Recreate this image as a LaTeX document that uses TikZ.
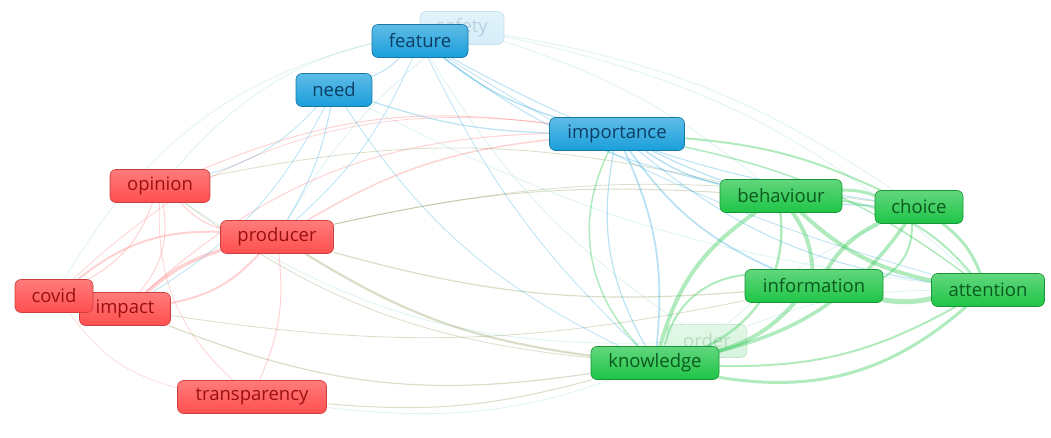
\documentclass[tikz,border=0pt]{standalone}
\usepackage{fontspec}
\setmainfont{Open Sans}
\usetikzlibrary{positioning,backgrounds}
\definecolor{vosred}{HTML}{FF4F4F}
\definecolor{vosblue}{HTML}{1A9FDB}
\definecolor{vosgreen}{HTML}{1EC546}
\definecolor{redtext}{HTML}{9A1010}
\definecolor{bluetext}{HTML}{0D3E66}
\definecolor{greentext}{HTML}{0B5A1E}
\begin{document}
\begin{tikzpicture}[
    x=1pt,y=-1pt,
    term/.style={rectangle,rounded corners=6pt,minimum height=33pt,inner xsep=0pt,
      font=\fontsize{18.5}{21}\selectfont,line width=0.6pt},
    redterm/.style={term,draw=vosred!80!black,top color=vosred!75!white,bottom color=vosred,text=redtext},
    blueterm/.style={term,draw=vosblue!75!black,top color=vosblue!70!white,bottom color=vosblue,text=bluetext},
    greenterm/.style={term,draw=vosgreen!75!black,top color=vosgreen!70!white,bottom color=vosgreen,text=greentext},
    faded/.style={opacity=0.18},
    link/.style={line width=#1,line cap=round},
    redlink/.style={link=#1,vosred,opacity=0.25},
    bluelink/.style={link=#1,vosblue,opacity=0.3},
    greenlink/.style={link=#1,vosgreen,opacity=0.35},
    mixlink/.style={link=#1,vosred!45!vosgreen,opacity=0.3},
    faintlink/.style={link=0.8pt,vosblue!60!vosgreen,opacity=0.15}
  ]
    \useasboundingbox (0,0) rectangle (1051,438);
    % Faded terms (behind)
    \node[greenterm,faded,minimum width=80pt] (order) at (707,341) {order};
    \node[blueterm,faded,minimum width=84pt] (safety) at (462,28) {safety};
    % Terms
    \node[blueterm,minimum width=96pt] (feature) at (420,41) {feature};
    \node[blueterm,minimum width=76pt] (need) at (334,90) {need};
    \node[blueterm,minimum width=135pt] (importance) at (617,134) {importance};
    \node[redterm,minimum width=100pt] (opinion) at (160,186) {opinion};
    \node[redterm,minimum width=113pt] (producer) at (277,237) {producer};
    \node[redterm,minimum width=91pt] (impact) at (125,309) {impact};
    \node[redterm,minimum width=78pt] (covid) at (54,296) {covid};
    \node[redterm,minimum width=149pt] (transparency) at (252,397) {transparency};
    \node[greenterm,minimum width=122pt] (behaviour) at (781,196) {behaviour};
    \node[greenterm,minimum width=88pt] (choice) at (919,207) {choice};
    \node[greenterm,minimum width=138pt] (information) at (814,286) {information};
    \node[greenterm,minimum width=113pt] (attention) at (988,290) {attention};
    \node[greenterm,minimum width=128pt] (knowledge) at (655,363) {knowledge};
    % Links (below the terms)
    \begin{scope}[on background layer]
      % faint long links
      \foreach \a/\b/\bend in {covid/safety/25, opinion/safety/20, safety/choice/12, safety/attention/15,
          safety/behaviour/10, producer/safety/10, order/choice/8, order/attention/10, feature/order/-12,
          transparency/order/-15, opinion/order/-18, need/attention/-10} {
        \draw[faintlink] (\a) to[bend left=\bend] (\b);
      }
      % red cluster
      \foreach \a/\b/\w/\bend in {producer/impact/3.5pt/-12, impact/producer/2pt/-18, producer/opinion/1.2pt/15,
          producer/covid/2pt/-20, impact/opinion/1pt/-25, covid/opinion/1pt/-20,
          producer/transparency/1pt/15, impact/importance/1pt/20, producer/importance/1.5pt/12,
          opinion/importance/1pt/15, covid/importance/0.8pt/25, opinion/transparency/0.8pt/-25,
          covid/transparency/0.6pt/-20} {
        \draw[redlink=\w] (\a) to[bend left=\bend] (\b);
      }
      % red to green
      \foreach \a/\b/\w/\bend in {producer/knowledge/2.2pt/-12, producer/information/1.2pt/-10,
          impact/knowledge/1.2pt/-15, transparency/knowledge/1pt/-10, producer/behaviour/1pt/8,
          impact/information/0.8pt/-10, opinion/behaviour/0.8pt/12, opinion/knowledge/0.8pt/-15,
          producer/choice/0.8pt/10} {
        \draw[mixlink=\w] (\a) to[bend left=\bend] (\b);
      }
      % blue cluster
      \foreach \a/\b/\w/\bend in {feature/importance/1.5pt/-10, need/importance/1.2pt/-8, feature/behaviour/1pt/-12,
          feature/choice/1pt/-10, need/producer/1pt/10, need/impact/0.8pt/15, importance/information/1.8pt/-15,
          importance/behaviour/1.5pt/-10, feature/need/1pt/10, need/knowledge/0.8pt/-15,
          feature/attention/0.8pt/-8, importance/knowledge/1.8pt/15, importance/knowledge/1.2pt/-20,
          feature/producer/0.8pt/12, need/opinion/0.8pt/15, importance/choice/1.2pt/-12,
          importance/attention/1pt/-15, feature/knowledge/0.8pt/-10} {
        \draw[bluelink=\w] (\a) to[bend left=\bend] (\b);
      }
      % green cluster
      \foreach \a/\b/\w/\bend in {behaviour/information/4pt/15, behaviour/attention/4pt/-15, behaviour/knowledge/4pt/-20,
          behaviour/choice/3pt/10, choice/information/4pt/-15, choice/attention/3pt/15, choice/knowledge/3.5pt/20,
          information/attention/5pt/-10, information/knowledge/4pt/15, attention/knowledge/3pt/25,
          knowledge/behaviour/2.5pt/-35, knowledge/attention/2pt/-15, importance/choice/2pt/10,
          importance/attention/1.5pt/12, importance/knowledge/1.5pt/-35, information/choice/2pt/-30,
          behaviour/attention/2pt/20, knowledge/information/2pt/35} {
        \draw[greenlink=\w] (\a) to[bend left=\bend] (\b);
      }
    \end{scope}
  \end{tikzpicture}
\end{document}
